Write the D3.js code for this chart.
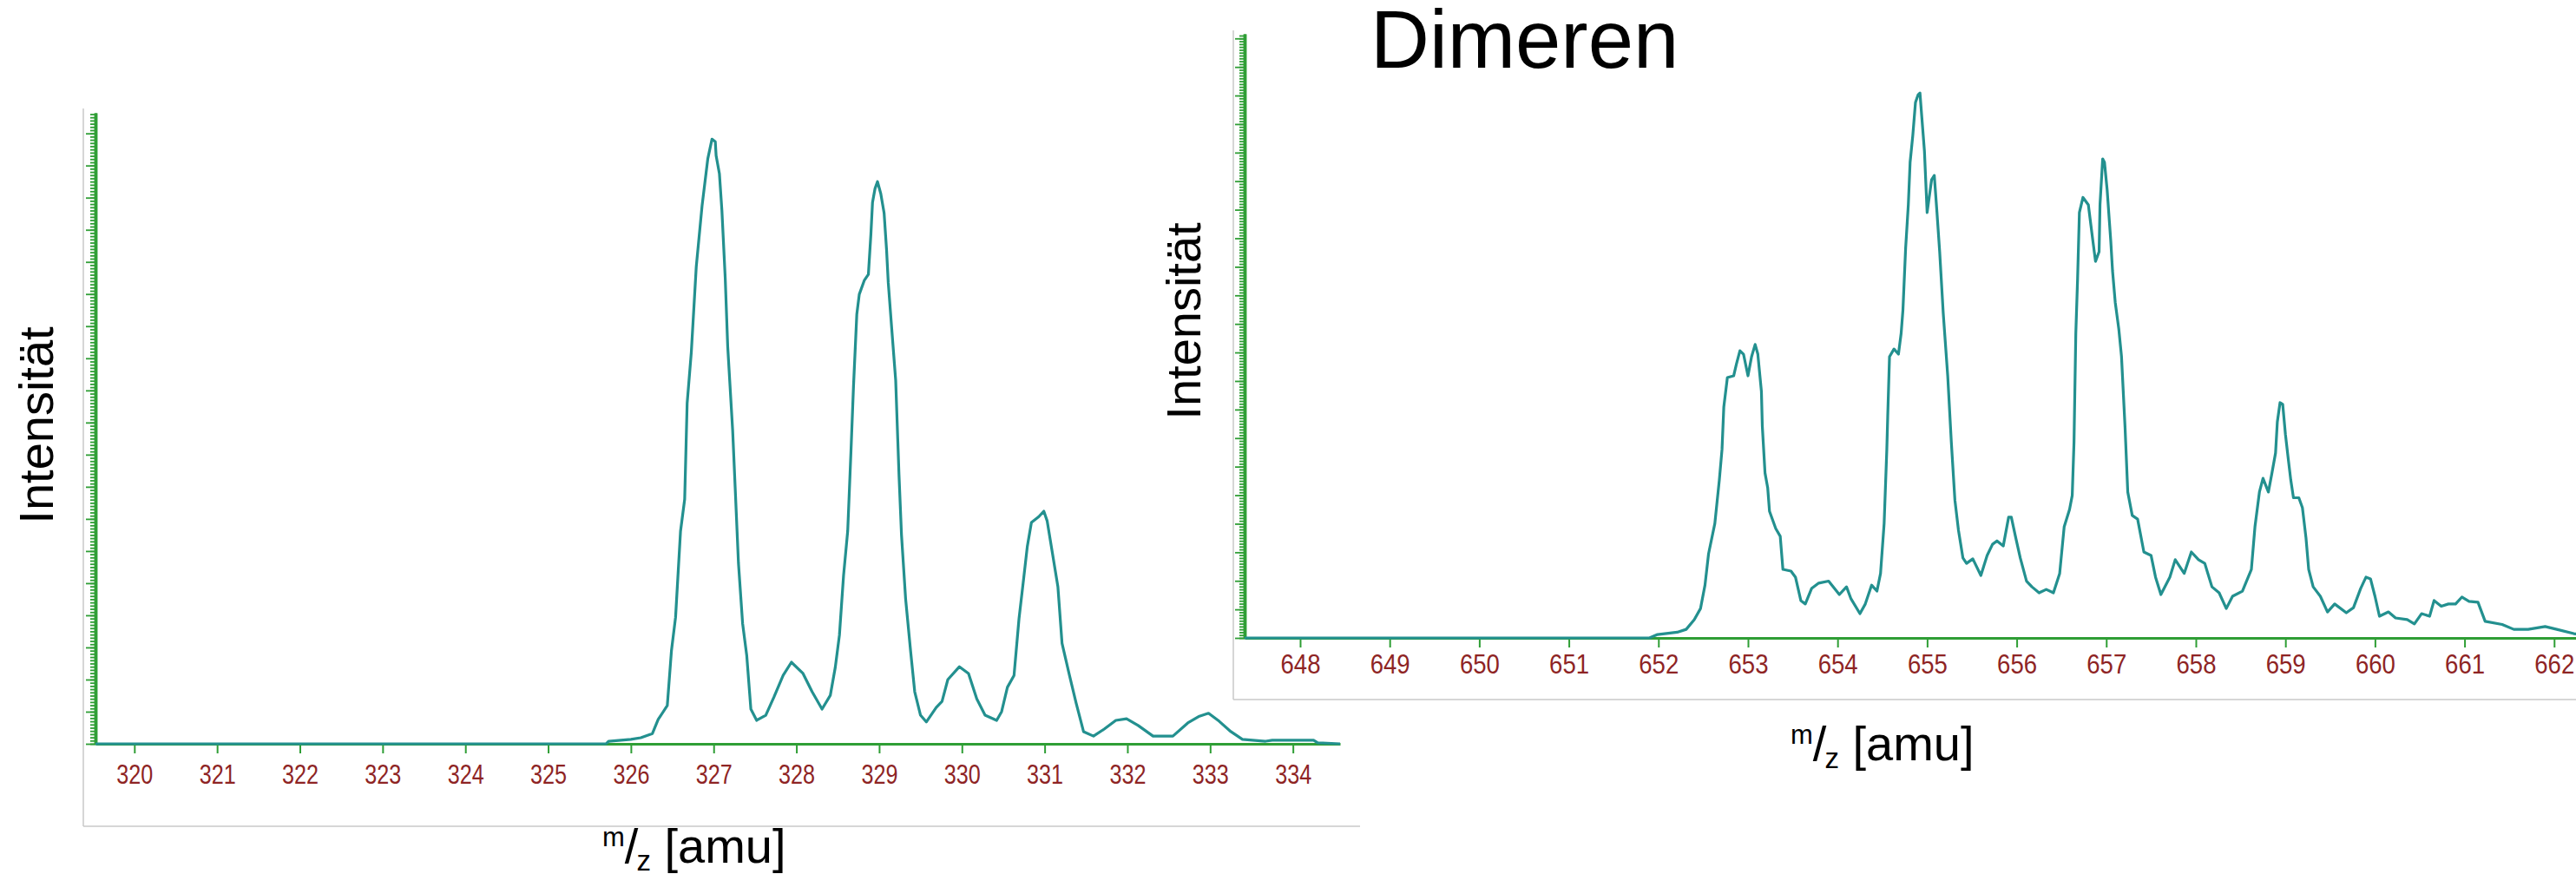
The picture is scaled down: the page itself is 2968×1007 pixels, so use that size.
<!DOCTYPE html>
<html>
<head>
<meta charset="utf-8">
<script src="https://cdn.jsdelivr.net/npm/d3@7"></script>
<style>
  html, body { margin: 0; padding: 0; background: #fff; overflow: hidden; }
  svg { display: block; }
</style>
</head>
<body>
<svg id="chart" width="2968" height="1007"></svg>
<script>
// Monomer region: m/z and intensity (counts)
const monoMz = [319.53, 325.70, 325.73, 326.00, 326.12, 326.26, 326.33, 326.44, 326.49, 326.54,
  326.60, 326.65, 326.68, 326.73, 326.79, 326.86, 326.93, 326.98, 327.02, 327.03,
  327.07, 327.10, 327.14, 327.17, 327.23, 327.26, 327.30, 327.35, 327.40, 327.45,
  327.52, 327.63, 327.73, 327.84, 327.94, 328.08, 328.19, 328.31, 328.41, 328.47,
  328.52, 328.57, 328.62, 328.66, 328.69, 328.73, 328.76, 328.82, 328.87, 328.90,
  328.92, 328.95, 328.98, 329.02, 329.06, 329.09, 329.11, 329.15, 329.20, 329.24,
  329.27, 329.32, 329.38, 329.43, 329.50, 329.57, 329.69, 329.76, 329.83, 329.97,
  330.08, 330.18, 330.28, 330.42, 330.48, 330.55, 330.63, 330.69, 330.74, 330.79,
  330.84, 330.93, 330.99, 331.03, 331.09, 331.16, 331.21, 331.30, 331.38, 331.47,
  331.59, 331.72, 331.86, 331.99, 332.13, 332.31, 332.55, 332.73, 332.87, 332.98,
  333.11, 333.25, 333.39, 333.67, 333.75, 334.25, 334.30, 334.57];
const monoInt = [0, 0, 40, 70, 95, 160, 380, 595, 1445, 1970,
  3310, 3805, 5305, 6090, 7425, 8370, 9110, 9410, 9370, 9155,
  8870, 8300, 7250, 6185, 4875, 3995, 2810, 1875, 1375, 540,
  365, 445, 730, 1065, 1270, 1095, 810, 540, 755, 1190,
  1690, 2620, 3310, 4565, 5560, 6685, 6995, 7210, 7305, 7925,
  8425, 8640, 8750, 8560, 8260, 7680, 7180, 6495, 5655, 4185,
  3255, 2255, 1445, 810, 445, 340, 565, 660, 1000, 1200,
  1095, 700, 445, 365, 500, 880, 1065, 1945, 2500, 3065,
  3445, 3535, 3620, 3470, 3000, 2445, 1565, 1065, 635, 190,
  120, 230, 365, 390, 285, 120, 120, 325, 430, 475,
  350, 190, 70, 40, 55, 55, 15, 0];
const monoTicks = [320, 321, 322, 323, 324, 325, 326, 327, 328, 329, 330, 331, 332, 333, 334];

// Dimer region: m/z and intensity (counts)
const dimMz = [647.38, 651.90, 651.99, 652.21, 652.31, 652.40, 652.47, 652.52, 652.56, 652.63,
  652.68, 652.71, 652.73, 652.77, 652.84, 652.87, 652.91, 652.95, 653.00, 653.04,
  653.08, 653.11, 653.15, 653.16, 653.19, 653.22, 653.24, 653.31, 653.36, 653.39,
  653.48, 653.53, 653.59, 653.64, 653.71, 653.79, 653.90, 654.02, 654.10, 654.15,
  654.25, 654.31, 654.38, 654.44, 654.48, 654.52, 654.55, 654.56, 654.58, 654.63,
  654.68, 654.71, 654.73, 654.76, 654.79, 654.81, 654.84, 654.87, 654.90, 654.92,
  654.94, 654.97, 655.00, 655.05, 655.08, 655.11, 655.14, 655.18, 655.23, 655.27,
  655.31, 655.35, 655.40, 655.44, 655.51, 655.60, 655.67, 655.73, 655.78, 655.85,
  655.91, 655.94, 655.99, 656.04, 656.11, 656.17, 656.25, 656.33, 656.41, 656.48,
  656.53, 656.59, 656.62, 656.64, 656.66, 656.68, 656.70, 656.74, 656.80, 656.85,
  656.88, 656.92, 656.93, 656.96, 656.98, 657.01, 657.05, 657.07, 657.10, 657.14,
  657.17, 657.21, 657.24, 657.29, 657.35, 657.42, 657.50, 657.55, 657.61, 657.71,
  657.77, 657.87, 657.95, 658.03, 658.10, 658.18, 658.26, 658.34, 658.41, 658.52,
  658.62, 658.66, 658.71, 658.75, 658.81, 658.85, 658.89, 658.91, 658.94, 658.97,
  659.00, 659.03, 659.06, 659.09, 659.15, 659.19, 659.23, 659.26, 659.31, 659.39,
  659.47, 659.55, 659.68, 659.76, 659.84, 659.90, 659.95, 660.00, 660.05, 660.15,
  660.23, 660.36, 660.44, 660.52, 660.61, 660.66, 660.74, 660.82, 660.90, 660.97,
  661.05, 661.15, 661.23, 661.42, 661.55, 661.71, 661.90, 662.03, 662.22, 662.40,
  662.60];
const dimInt = [0, 0, 60, 100, 150, 320, 515, 925, 1475, 2005,
  2765, 3300, 4045, 4560, 4590, 4790, 5030, 4970, 4590, 4925,
  5140, 4970, 4315, 3710, 2890, 2630, 2220, 1915, 1780, 1200,
  1170, 1065, 655, 595, 865, 960, 995, 760, 895, 685,
  425, 595, 925, 820, 1130, 2005, 3300, 3875, 4925, 5060,
  4970, 5335, 5745, 6825, 7585, 8330, 8800, 9380, 9515, 9545,
  9135, 8525, 7450, 8025, 8100, 7450, 6765, 5685, 4590, 3435,
  2415, 1885, 1400, 1305, 1385, 1095, 1445, 1640, 1700, 1610,
  2115, 2115, 1750, 1400, 995, 895, 790, 850, 790, 1130,
  1945, 2250, 2495, 3435, 5335, 6295, 7450, 7715, 7585, 6960,
  6595, 6765, 7585, 8390, 8330, 7845, 6960, 6430, 5880, 5410,
  4930, 3680, 2555, 2145, 2080, 1505, 1445, 1065, 760, 1065,
  1370, 1130, 1505, 1370, 1305, 895, 790, 515, 730, 820,
  1200, 1945, 2555, 2795, 2555, 2890, 3240, 3785, 4120, 4090,
  3570, 3160, 2765, 2455, 2455, 2280, 1750, 1200, 895, 730,
  455, 595, 440, 530, 865, 1065, 1035, 730, 380, 455,
  350, 320, 245, 425, 380, 655, 555, 595, 595, 715,
  640, 625, 290, 235, 150, 150, 200, 150, 75, 45,
  30];
const dimTicks = [648, 649, 650, 651, 652, 653, 654, 655, 656, 657, 658, 659, 660, 661, 662];

const yTitle = "Intensität";
const dimerTitle = "Dimeren";

const AXIS_GREEN = "#2f9e35";
const TRACE = "#23908f";
const TICK_TEXT = "#8e2424";
const FRAME = "#c8c8c8";
const SANS = "'Liberation Sans', Arial, Helvetica, sans-serif";
const NARROW = "'Liberation Sans Narrow', 'Arial Narrow', 'Liberation Sans', Arial, sans-serif";

const svg = d3.select("#chart");
svg.append("rect").attr("width", 2968).attr("height", 1007).attr("fill", "#fff");

function drawPanel(cfg) {
  const g = svg.append("g");

  if (cfg.backdrop) {
    g.append("rect")
      .attr("x", cfg.frame.left).attr("y", 0)
      .attr("width", 2968 - cfg.frame.left).attr("height", cfg.frame.bottom)
      .attr("fill", "#fff");
  }

  const x = d3.scaleLinear().domain(cfg.xDomain).range(cfg.xRange);
  const y = d3.scaleLinear().domain(cfg.yDomain).range(cfg.yRange);

  // window frame (left and bottom edges)
  g.append("line")
    .attr("x1", cfg.frame.left).attr("x2", cfg.frame.left)
    .attr("y1", cfg.frame.top).attr("y2", cfg.frame.bottom)
    .attr("stroke", FRAME).attr("stroke-width", 1.5);
  g.append("line")
    .attr("x1", cfg.frame.left).attr("x2", cfg.frame.right)
    .attr("y1", cfg.frame.bottom).attr("y2", cfg.frame.bottom)
    .attr("stroke", FRAME).attr("stroke-width", 1.5);

  // y axis: dense minor ticks plus longer major ticks, no labels
  const minorVals = d3.range(0, cfg.yDomain[1] + 1e-6, cfg.yMinor);
  const majorVals = d3.range(0, cfg.yDomain[1] + 1e-6, cfg.yMajor);
  const yMinorAxis = g.append("g")
    .attr("transform", `translate(${cfg.xRange[0]},0)`)
    .call(d3.axisLeft(y).tickValues(minorVals).tickSize(6).tickSizeOuter(0).tickFormat(""));
  const yMajorAxis = g.append("g")
    .attr("transform", `translate(${cfg.xRange[0]},0)`)
    .call(d3.axisLeft(y).tickValues(majorVals).tickSize(11).tickSizeOuter(0).tickFormat(""));
  [yMinorAxis, yMajorAxis].forEach(a => {
    a.selectAll(".tick line").attr("stroke", AXIS_GREEN).attr("stroke-width", 1.8);
    a.select(".domain").attr("stroke", AXIS_GREEN).attr("stroke-width", 3.5);
  });

  // x axis
  const xAxis = g.append("g")
    .attr("transform", `translate(0,${cfg.yRange[0]})`)
    .call(d3.axisBottom(x).tickValues(cfg.ticks).tickSize(11).tickSizeOuter(0)
      .tickPadding(cfg.tickPad).tickFormat(d3.format("d")));
  xAxis.select(".domain").attr("stroke", AXIS_GREEN).attr("stroke-width", 3);
  xAxis.selectAll(".tick line").attr("stroke", AXIS_GREEN).attr("stroke-width", 2);
  xAxis.selectAll(".tick text")
    .attr("fill", TICK_TEXT)
    .attr("font-family", NARROW)
    .attr("font-size", 31)
    .attr("textLength", cfg.labelWidth)
    .attr("lengthAdjust", "spacingAndGlyphs");

  // spectrum trace
  const line = d3.line().x(d => x(d[0])).y(d => y(d[1]));
  g.append("path")
    .datum(d3.zip(cfg.mz, cfg.intensity))
    .attr("d", line)
    .attr("fill", "none")
    .attr("stroke", TRACE)
    .attr("stroke-width", 3.2)
    .attr("stroke-linejoin", "round");

  // y title
  g.append("text")
    .attr("transform", `translate(${cfg.yTitlePos[0]},${cfg.yTitlePos[1]}) rotate(-90)`)
    .attr("text-anchor", "middle")
    .attr("font-family", SANS)
    .attr("font-size", 56)
    .attr("fill", "#000")
    .text(yTitle);

  // x title: m/z [amu] with raised m and lowered z
  const t = g.append("text")
    .attr("x", cfg.xTitlePos[0]).attr("y", cfg.xTitlePos[1])
    .attr("font-family", SANS).attr("font-size", 56).attr("fill", "#000");
  t.append("tspan").attr("font-size", 31).attr("dy", -19).text("m");
  t.append("tspan").attr("dy", 19).text("/");
  t.append("tspan").attr("font-size", 33).attr("dy", 9).attr("dx", -2).text("z");
  t.append("tspan").attr("dy", -9).text(" [amu]");
}

drawPanel({
  mz: monoMz, intensity: monoInt, ticks: monoTicks,
  xDomain: [319.53, 334.57], xRange: [110, 1544],
  yDomain: [0, 9820], yRange: [857, 130],
  yMajor: 500, yMinor: 50,
  frame: { left: 96, top: 125, bottom: 952, right: 1567 },
  tickPad: 12.5, labelWidth: 42,
  yTitlePos: [61, 490], xTitlePos: [694, 994],
  backdrop: false
});

drawPanel({
  mz: dimMz, intensity: dimInt, ticks: dimTicks,
  xDomain: [647.38, 662.6], xRange: [1434, 3004.7],
  yDomain: [0, 10580], yRange: [735, 39],
  yMajor: 500, yMinor: 50,
  frame: { left: 1421, top: 35, bottom: 806, right: 2968 },
  tickPad: 7.5, labelWidth: 46,
  yTitlePos: [1383, 370], xTitlePos: [2063, 876],
  backdrop: true
});

svg.append("text")
  .attr("x", 1579).attr("y", 78)
  .attr("font-family", SANS)
  .attr("font-size", 94)
  .attr("fill", "#000")
  .text(dimerTitle);
</script>
</body>
</html>
